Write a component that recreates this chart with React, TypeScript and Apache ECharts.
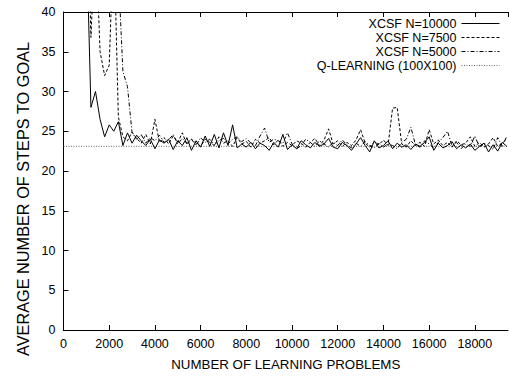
import React, { useEffect, useRef } from "react";
import * as echarts from "echarts";

const SAMPLE_STEP = 200;
const X_MAX = 19450;
const Q_LEARNING = 23.1;

const xcsf10000 = [
  120, 95, 80, 70, 60, 50, 28, 30, 26.5, 24.3,
  25.8, 25, 26.2, 23.2, 24.8, 23.5, 24.5, 23.8, 23.2, 24.0,
  22.8, 23.9, 23.5, 24.0, 22.7, 23.8, 23.2, 24.2, 22.6, 23.8,
  23.0, 24.4, 23.1, 24.6, 22.9, 24.8, 23.2, 25.8, 22.9, 23.4,
  23.0, 23.6, 22.8, 23.5, 23.2, 22.6, 23.6, 23.0, 24.6, 22.7,
  23.3, 22.8, 23.8, 23.3, 22.9, 23.6, 23.1, 23.4, 24.1, 23.0,
  22.8, 23.6, 23.2, 22.6, 23.4, 24.2, 23.2, 22.4, 23.8, 22.9,
  23.2, 23.8, 22.8, 23.5, 23.0, 23.3, 22.7, 23.4, 23.1, 23.6,
  24.3, 22.6, 23.5, 22.9, 23.2, 23.7, 22.8, 23.3, 22.9, 23.4,
  22.6, 23.1, 23.5, 22.4, 23.3, 22.5, 23.6, 23.1,
];

const xcsf7500 = [
  120, 100, 90, 80, 70, 60, 36.8, 50, 35, 32,
  33.3, 50, 26.8, 24.3, 23.8, 24.9, 24.1, 23.5, 24.6, 23.4,
  26.5, 23.6, 24.2, 23.4, 24.4, 23.6, 24.8, 23.3, 24.0, 23.5,
  23.1, 24.0, 23.6, 23.2, 24.3, 23.5, 23.8, 23.1, 24.2, 23.4,
  23.7, 23.0, 24.0, 23.5, 23.8, 24.2, 23.3, 23.9, 23.1, 23.6,
  23.2, 23.8, 23.5, 23.0, 23.6, 24.1, 23.2, 23.9, 25.3, 23.4,
  23.8, 23.1, 23.6, 23.2, 23.9, 25.2, 23.5, 23.0, 23.7, 23.3,
  23.9, 23.2, 27.9, 28.0, 23.4, 23.0, 23.8, 23.2, 23.6, 23.1,
  25.2, 23.4, 23.9, 23.2, 23.6, 23.0, 23.8, 23.3, 23.5, 24.3,
  23.1, 23.6, 23.0, 23.4, 24.2, 23.1, 23.5, 24.0,
];

const xcsf5000 = [
  150, 130, 110, 100, 90, 80, 70, 60, 55, 45,
  60, 55, 45, 32.5, 30.6, 24.8, 24.0, 24.6, 23.5, 24.2,
  23.8, 24.5, 23.6, 23.9, 24.6, 23.4, 24.1, 23.5, 24.0, 23.2,
  24.2, 23.6, 24.0, 23.3, 23.8, 24.1, 23.4, 24.0, 24.3, 23.7,
  24.1, 23.5, 23.2, 24.4, 25.4, 23.6, 24.0, 23.8, 23.5, 24.8,
  23.4, 22.8, 23.2, 24.0, 23.6, 23.1, 23.8, 23.4, 23.0, 23.6,
  23.2, 23.9, 23.3, 22.9, 23.5, 23.1, 23.7, 23.2, 22.9, 23.5,
  23.0, 23.4, 23.2, 22.8, 23.6, 24.0, 25.5, 23.3, 23.0, 23.8,
  23.4, 22.9, 23.6, 24.2, 25.0, 23.2, 23.6, 22.8, 23.4, 23.1,
  24.4, 23.0, 23.5, 23.2, 22.7, 24.2, 23.1, 24.4,
];

const SERIES_NAMES = [
  "XCSF N=10000",
  "XCSF N=7500",
  "XCSF N=5000",
  "Q-LEARNING (100X100)",
];

const toPoints = (vals: number[]) => vals.map((v, i) => [i * SAMPLE_STEP, v]);

const FONT = "Liberation Sans, Arial, Helvetica, sans-serif";

export default function App() {
  const ref = useRef<HTMLDivElement>(null);
  useEffect(() => {
    if (!ref.current) return;
    const chart = echarts.init(ref.current, null, { renderer: "svg" });
    const legendTops = [17, 31, 45, 59];
    const lineTypes: any[] = ["solid", [3, 2], [4, 2, 1, 2], [1, 1.5]];
    const lineColors = ["#000", "#000", "#000", "#666"];
    const datasets = [
      toPoints(xcsf10000),
      toPoints(xcsf7500),
      toPoints(xcsf5000),
      [
        [0, Q_LEARNING],
        [X_MAX, Q_LEARNING],
      ],
    ];
    chart.setOption({
      animation: false,
      backgroundColor: "#fff",
      textStyle: { fontFamily: FONT },
      grid: { left: 63.5, right: 1, top: 12, bottom: 48, containLabel: false },
      legend: SERIES_NAMES.map((n, i) => ({
        data: [n],
        orient: "vertical",
        right: 9,
        top: legendTops[i],
        align: "right",
        padding: 0,
        itemWidth: 38,
        itemHeight: 12,
        selectedMode: false,
        itemStyle: { opacity: 0 },
        lineStyle: { width: 1 },
        textStyle: {
          fontSize: 12.5,
          lineHeight: 12,
          color: "#000",
          fontFamily: FONT,
        },
      })),
      xAxis: [
        {
          type: "value",
          min: 0,
          max: X_MAX,
          interval: 2000,
          name: "NUMBER OF LEARNING PROBLEMS",
          nameLocation: "middle",
          nameGap: 28,
          nameTextStyle: { fontSize: 13.3, color: "#000", fontFamily: FONT },
          axisLine: { show: true, lineStyle: { color: "#000", width: 1 } },
          axisTick: { show: true, inside: true, length: 5, lineStyle: { color: "#000" } },
          axisLabel: {
            color: "#000",
            fontSize: 12.5,
            margin: 7,
            showMaxLabel: false,
            formatter: (v: number) => (v % 2000 === 0 ? String(v) : ""),
          },
          splitLine: { show: false },
        },
        {
          type: "value",
          position: "top",
          min: 0,
          max: X_MAX,
          interval: 2000,
          axisLine: { show: true, lineStyle: { color: "#000", width: 1 } },
          axisTick: { show: true, inside: true, length: 5, lineStyle: { color: "#000" } },
          axisLabel: { show: false },
          splitLine: { show: false },
        },
      ],
      yAxis: {
        type: "value",
        min: 0,
        max: 40,
        interval: 5,
        name: "AVERAGE NUMBER OF STEPS TO GOAL",
        nameLocation: "middle",
        nameGap: 30,
        nameTextStyle: {
          fontSize: 16.3,
          color: "#000",
          fontFamily: FONT,
          padding: [0, 56, 0, 0],
        },
        axisLine: { show: true, lineStyle: { color: "#000", width: 1 } },
        axisTick: { show: true, inside: true, length: 5, lineStyle: { color: "#000" } },
        axisLabel: { color: "#000", fontSize: 12.5, margin: 8 },
        splitLine: { show: false },
      },
      series: SERIES_NAMES.map((n, i) => ({
        name: n,
        type: "line",
        xAxisIndex: 0,
        data: datasets[i],
        showSymbol: false,
        symbol: "none",
        clip: true,
        z: 10 - i,
        lineStyle: { color: lineColors[i], width: 1, type: lineTypes[i] },
        itemStyle: { color: lineColors[i] },
      })),
    });
    return () => chart.dispose();
  }, []);
  return (
    <div
      ref={ref}
      style={{ position: "fixed", left: 0, top: 0, width: 509, height: 378 }}
    />
  );
}
